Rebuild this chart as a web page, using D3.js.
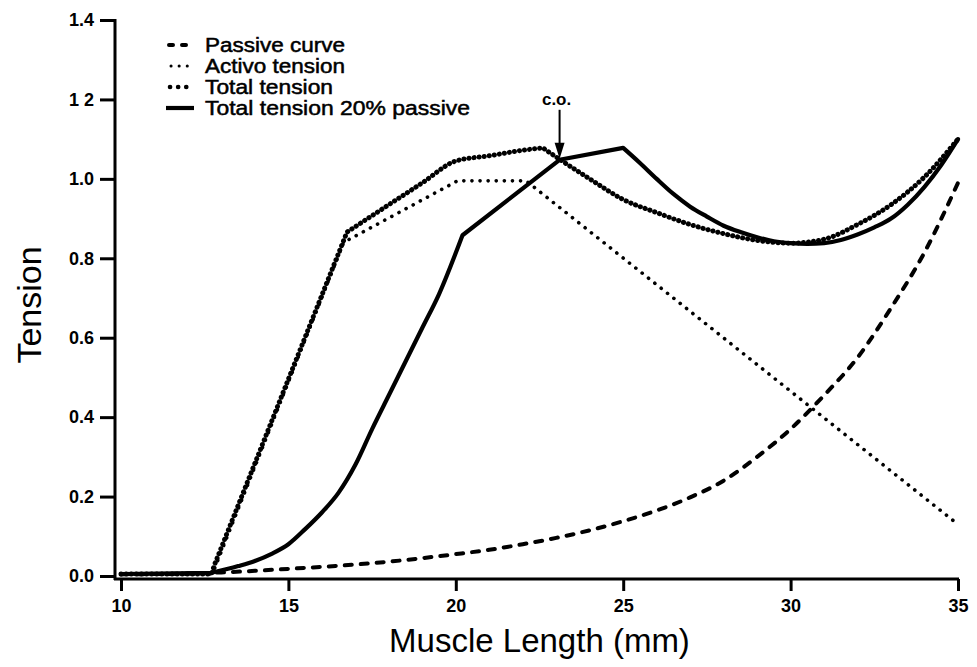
<!DOCTYPE html>
<html>
<head>
<meta charset="utf-8">
<script src="https://cdn.jsdelivr.net/npm/d3@7"></script>
<style>
  html, body { margin: 0; padding: 0; background: #fff; }
  svg { display: block; }
</style>
</head>
<body>
<svg id="chart" width="977" height="667"></svg>
<script>
// ---- data ----
const xTicks = [10, 15, 20, 25, 30, 35];
const yTicks = [0.0, 0.2, 0.4, 0.6, 0.8, 1.0, 1.2, 1.4];
const yTickLabels = ["0.0", "0.2", "0.4", "0.6", "0.8", "1.0", "1 2", "1.4"];

const passiveX = [10, 11, 12, 13, 14, 15, 16, 17, 18, 19, 20, 21, 22, 23, 24, 25, 26, 27, 28, 29, 30, 31, 32, 33, 34, 35];
const passiveY = [0.004, 0.005, 0.006, 0.009, 0.013, 0.018, 0.023, 0.029, 0.036, 0.045, 0.055, 0.066, 0.08, 0.096, 0.115, 0.138, 0.165, 0.198, 0.24, 0.3, 0.37, 0.455, 0.55, 0.675, 0.815, 0.99];

const activeX = [10, 12.7, 12.8, 16.65, 20.05, 22.1, 35];
const activeY = [0.005, 0.005, 0.02, 0.84, 0.995, 0.995, 0.13];

const totalX = [10, 12.7, 12.8, 16.75, 18, 19, 20, 21, 22, 22.6, 23, 24, 25, 26, 27, 28, 29, 30, 31, 32, 33, 34, 35];
const totalY = [0.005, 0.005, 0.03, 0.866, 0.935, 0.99, 1.045, 1.058, 1.072, 1.078, 1.055, 1.0, 0.948, 0.915, 0.885, 0.862, 0.845, 0.838, 0.848, 0.885, 0.935, 1.005, 1.1];
const totalKinks = [12.7, 12.8, 16.75, 22.6];

const total20X = [10, 12.7, 13.5, 14, 14.5, 15, 15.5, 16, 16.5, 17, 17.5, 18, 18.5, 19, 19.5, 20.2, 23.1, 25.0, 25.5, 26, 26.5, 27, 27.5, 28, 28.5, 29, 29.5, 30, 30.5, 31, 31.5, 32, 32.5, 33, 33.5, 34, 34.5, 35];
const total20Y = [0.005, 0.008, 0.025, 0.038, 0.056, 0.08, 0.118, 0.16, 0.21, 0.28, 0.37, 0.455, 0.54, 0.625, 0.71, 0.858, 1.048, 1.078, 1.04, 1.0, 0.962, 0.93, 0.905, 0.882, 0.866, 0.853, 0.843, 0.838, 0.836, 0.838, 0.846, 0.86, 0.878, 0.9, 0.935, 0.98, 1.035, 1.1];
const total20Kinks = [12.7, 20.2, 23.1, 25.0];

const legendLabels = ["Passive curve", "Activo tension", "Total tension", "Total tension 20% passive"];
const coLabel = "c.o.";
const coPoint = [23.1, 1.048];

// ---- drawing ----
const svg = d3.select("#chart");
const x = d3.scaleLinear().domain([10, 35]).range([121, 958]);
const y = d3.scaleLinear().domain([0, 1.4]).range([576, 20]);
const FONT = "Liberation Sans, Arial, Helvetica, sans-serif";

const styles = {
  passive: { w: 4, dash: "7,9", cap: "round" },
  active:  { w: 3.6, dash: "0.1,8", cap: "round" },
  total:   { w: 5, dash: "0.1,5", cap: "round" },
  total20: { w: 4.2, dash: null, cap: "round" }
};

// axes
const axisY = 579;
const yAxis = d3.axisLeft(y).tickValues(yTicks).tickSize(15).tickSizeOuter(0)
  .tickFormat((d, i) => yTickLabels[i]);
const gy = svg.append("g").attr("transform", "translate(115,0)").call(yAxis);
gy.select(".domain").remove();
gy.selectAll(".tick line").attr("stroke", "#000").attr("stroke-width", 3);
gy.selectAll(".tick text").attr("x", -21).attr("font-family", FONT)
  .attr("font-size", 18).attr("font-weight", "bold").attr("fill", "#000");
svg.append("line").attr("x1", 115).attr("x2", 115).attr("y1", y(1.4) - 1).attr("y2", axisY + 1)
  .attr("stroke", "#000").attr("stroke-width", 3);

const xAxis = d3.axisBottom(x).tickValues(xTicks).tickSize(12).tickSizeOuter(0).tickFormat(d3.format("d"));
const gx = svg.append("g").attr("transform", `translate(0,${axisY})`).call(xAxis);
gx.select(".domain").remove();
gx.selectAll(".tick line").attr("stroke", "#000").attr("stroke-width", 3);
gx.selectAll(".tick text").attr("y", 20).attr("font-family", FONT)
  .attr("font-size", 18).attr("font-weight", "bold").attr("fill", "#000");
svg.append("line").attr("x1", 114).attr("x2", x(35) + 1).attr("y1", axisY).attr("y2", axisY)
  .attr("stroke", "#000").attr("stroke-width", 3);

// axis titles
svg.append("text").attr("x", x(22.5)).attr("y", 652).attr("text-anchor", "middle")
  .attr("font-family", FONT).attr("font-size", 33)
  .text("Muscle Length (mm)");
svg.append("text").attr("transform", "translate(41,305) rotate(-90)").attr("text-anchor", "middle")
  .attr("font-family", FONT).attr("font-size", 34)
  .text("Tension");

// series: smooth between kinks, sharp at kinks
function drawSeries(xs, ys, st, kinks, curve) {
  const pts = xs.map((v, i) => [v, ys[i]]);
  const line = d3.line().x(d => x(d[0])).y(d => y(d[1])).curve(curve);
  const breaks = [xs[0], ...kinks, xs[xs.length - 1]];
  let d = "";
  for (let k = 0; k < breaks.length - 1; k++) {
    const seg = pts.filter(p => p[0] >= breaks[k] && p[0] <= breaks[k + 1]);
    if (seg.length < 2) continue;
    let sd = line(seg);
    if (k > 0) sd = "L" + sd.slice(1);
    d += sd;
  }
  const p = svg.append("path").attr("d", d).attr("fill", "none")
    .attr("stroke", "#000").attr("stroke-width", st.w)
    .attr("stroke-linecap", st.cap).attr("stroke-linejoin", "round");
  if (st.dash) p.attr("stroke-dasharray", st.dash);
}
drawSeries(passiveX, passiveY, styles.passive, [], d3.curveMonotoneX);
drawSeries(activeX, activeY, styles.active, [], d3.curveLinear);
drawSeries(totalX, totalY, styles.total, totalKinks, d3.curveMonotoneX);
drawSeries(total20X, total20Y, styles.total20, total20Kinks, d3.curveMonotoneX);

// c.o. annotation
const cx = x(coPoint[0]), cy = y(coPoint[1]);
svg.append("text").attr("x", cx - 3).attr("y", cy - 55).attr("text-anchor", "middle")
  .attr("font-family", FONT).attr("font-size", 17).attr("font-weight", "bold")
  .text(coLabel);
svg.append("line").attr("x1", cx).attr("x2", cx).attr("y1", cy - 50).attr("y2", cy - 12)
  .attr("stroke", "#000").attr("stroke-width", 2);
svg.append("path").attr("d", `M${cx - 5},${cy - 17} L${cx + 5},${cy - 17} L${cx},${cy - 1} Z`).attr("fill", "#000");

// legend
const legY = [45, 66, 87, 108];
const legW = [140, 140, 128, 265];
const legKeys = ["passive", "active", "total", "total20"];
const lg = svg.append("g");
legKeys.forEach((k, i) => {
  const st = styles[k];
  const l = lg.append("line").attr("x1", 168).attr("x2", 191).attr("y1", legY[i]).attr("y2", legY[i])
    .attr("stroke", "#000").attr("stroke-width", st.w).attr("stroke-linecap", k === "total20" ? "butt" : st.cap);
  if (k === "passive") l.attr("stroke-dasharray", "4,9").attr("x1", 169);
  else if (k === "active") l.attr("stroke-dasharray", "0.1,8").attr("x1", 171).attr("stroke-width", 3);
  else if (k === "total") l.attr("stroke-dasharray", "0.1,8").attr("x1", 170).attr("stroke-width", 4.6);
  else l.attr("x1", 166).attr("x2", 194);
  lg.append("text").attr("x", 205).attr("y", legY[i] + 7)
    .attr("font-family", FONT)
    .attr("font-size", 20).attr("fill", "#000").attr("stroke", "#000").attr("stroke-width", 0.5)
    .attr("textLength", legW[i]).attr("lengthAdjust", "spacingAndGlyphs")
    .text(legendLabels[i]);
});
</script>
</body>
</html>
